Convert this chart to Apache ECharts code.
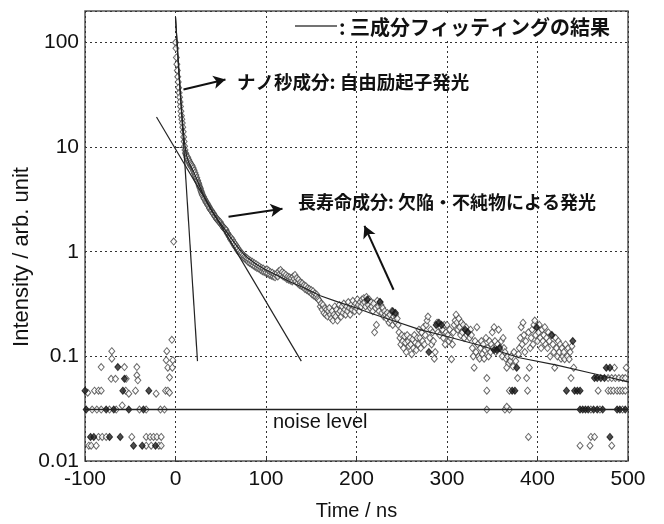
<!DOCTYPE html>
<html>
<head>
<meta charset="utf-8">
<script src="https://cdn.jsdelivr.net/npm/echarts@6/dist/echarts.min.js"></script>
<style>
  html, body { margin: 0; padding: 0; background: #fff; }
  #main { width: 664px; height: 524px; }
</style>
</head>
<body>
<div id="main"></div>
<script>
// x: Time / ns , y: Intensity (log)
var xTicks = [-100, 0, 100, 200, 300, 400, 500];
var yTicks = [0.01, 0.1, 1, 10, 100];

// 立ち上がり前のバックグラウンド (open / filled)
var preOpen = [
  [-4,0.144],[-9.6,0.112],[-10.3,0.092],[-3,0.092],[-70.4,0.112],[-70.4,0.095],
  [-82.1,0.079],[-56.4,0.079],[-42.7,0.079],[-8.5,0.078],[-3.5,0.078],
  [-71.1,0.061],[-66.3,0.061],[-54.5,0.061],[-42.7,0.066],[-41.6,0.059],[-6.6,0.063],
  [-97,0.045],[-89.5,0.047],[-85.1,0.047],[-82.1,0.047],[-55,0.047],[-51.6,0.044],[-44.2,0.047],
  [-21.4,0.044],[-11,0.047],[-8.5,0.047],[-6.6,0.045],[-58.9,0.034],
  [-92.1,0.031],[-86.9,0.031],[-82.1,0.031],[-72.9,0.031],[-65.5,0.031],[-39.8,0.031],
  [-32.4,0.031],[-16.6,0.031],[-12.2,0.031],
  [-85.1,0.017],[-81,0.017],[-76.6,0.017],[-48.3,0.017],[-32.4,0.017],[-28,0.017],
  [-24.3,0.017],[-20.6,0.017],[-15.8,0.017],
  [-95.8,0.014],[-93.2,0.014],[-87.6,0.014],[-32.4,0.014],[-26.9,0.014],[-18.4,0.014],[-15.8,0.014],
  [-2,1.25]
];
var preFilled = [
  [-63.7,0.079],[-56.4,0.061],[-100,0.047],[-58.2,0.047],[-29.5,0.047],
  [-98.7,0.031],[-76.6,0.031],[-68.2,0.031],[-51.6,0.031],[-35.4,0.031],
  [-93.9,0.017],[-90.3,0.017],[-72.9,0.017],[-61.1,0.017],
  [-46.4,0.014],[-36.8,0.014],[-22.1,0.014]
];

// 減衰部分の測定点
var decay = [
  [0,100],[0.5,88],[1,72],[1.5,62],[2,54],[2.5,47],[3,42],[3.5,37],[4,33],[4.5,30],[5,27],[5.5,24.5],
  [6,22],[6.5,20],[7,18.5],[7.5,17],[8,15.5],[8.5,14],[9,12.5],[9.5,11.3],[10,10.2],[10.5,9.4],
  [11,8.8],[11.5,8.6],[12,8.3],[12.5,8.0],[13,7.7],[13.5,8.0],[14,7.4],[14.5,7.6],[15,7.1],[15.5,7.3],
  [16,6.8],[16.5,7.0],[17,6.6],[17.5,6.8],[18,6.4],[18.5,6.6],[19,6.2],[19.5,6.3],[20,5.9],[20.5,6.0],
  [21,5.6],[21.5,5.7],[22,5.3],[22.5,5.4],[23,5.0],[23.5,5.1],[24,4.8],[24.5,4.8],[25,4.6],[25.5,4.5],
  [26,4.35],[26.5,4.2],[27,4.1],[27.5,4.0],[28,3.85],[28.5,3.75],[29,3.65],[29.5,3.55],[30,3.45],
  [31,3.35],[31.5,3.25],[32,3.2],[33,3.1],[33.5,3.0],[34,2.95],[35,2.9],[35.5,2.82],[36,2.78],
  [37,2.7],[37.5,2.62],[38,2.58],[39,2.5],[39.5,2.48],[40,2.45],[41,2.36],[41.5,2.34],[42,2.3],
  [43,2.22],[43.5,2.2],[44,2.15],[45,2.1],[45.5,2.06],[46,2.05],[47,1.98],[47.5,2.0],[48,1.95],
  [49,1.9],[49.5,1.92],[50,1.85],[51,1.8],[51.5,1.78],[52,1.75],[53,1.7],[53.5,1.7],[54,1.67],
  [55,1.62],[55.5,1.64],[56,1.6],[57,1.52],[57.5,1.5],[58,1.48],[59,1.42],[59.5,1.4],
  [60,1.38],[60.8,1.32],[61.5,1.36],[62.3,1.27],[63,1.3],[63.8,1.2],[64.5,1.23],[65.3,1.14],[66,1.18],
  [66.8,1.1],[67.5,1.13],[68.3,1.04],[69,1.08],[69.8,1.0],[70.5,1.03],[71.3,0.96],[72,0.99],[72.8,0.93],
  [73.5,0.96],[74.3,0.9],[75,0.93],[75.8,0.87],[76.5,0.9],[77.3,0.85],[78,0.88],[78.8,0.83],[79.5,0.86],
  [80.3,0.8],[81,0.84],[82,0.78],[83,0.82],[84,0.76],[85,0.8],[86,0.74],[87,0.78],[88,0.72],[89,0.76],
  [90,0.7],[91,0.74],[92,0.69],[93,0.72],[94,0.67],[95,0.7],[96,0.65],[97,0.69],[98,0.64],[99,0.67],
  [100,0.63],[101,0.68],[102,0.62],[103,0.66],[104,0.6],[105,0.64],[106,0.59],[107,0.63],[108,0.58],
  [109,0.61],[110,0.57],[111,0.6],[112,0.62],[113,0.58],[114,0.65],[115,0.61],[116,0.67],[117,0.6],
  [118,0.64],[119,0.58],[120,0.62],[121,0.57],[122,0.6],[123,0.55],[124,0.58],[125,0.54],[126,0.57],
  [127,0.53],[128,0.56],[129,0.52],[130,0.58],[131,0.55],[132,0.6],[133,0.52],[134,0.56],[135,0.5],
  [136,0.54],[137,0.48],[138,0.51],[139,0.47],[140,0.5],[141,0.46],[142,0.48],[143,0.44],[144,0.47],
  [145,0.43],[146,0.45],[147,0.42],[148,0.44],[149,0.41],[150,0.43],[151,0.39],[152,0.42],[153,0.38],
  [154,0.4],[155,0.37],[156,0.39],[157,0.36],[158,0.35],[159,0.34],[160,0.3],[161,0.32],[162,0.28],
  [163,0.31],[164,0.26],[165,0.29],[166,0.25],[167,0.28],[168,0.24],[169,0.27],[170,0.29],[171,0.25],
  [172,0.23],[173,0.27],[174,0.22],[175,0.25],[176,0.3],[177,0.24],[178,0.28],[179,0.22],[180,0.26],
  [181,0.31],[182,0.27],[183,0.24],[184,0.3],[185,0.26],[186,0.32],[187,0.28],[188,0.25],[189,0.3],
  [190,0.27],[191,0.33],[192,0.29],[193,0.25],[194,0.31],[195,0.28],[196,0.34],[197,0.3],[198,0.27],
  [199,0.32],[200,0.29],[201,0.35],[202,0.31],[203,0.27],[204,0.33],[205,0.3],[206,0.35],[207,0.32],
  [208,0.36],[209,0.33],[210,0.3],[211,0.37],[212,0.34],[213,0.31],[214,0.35],[215,0.29],[216,0.33],
  [217,0.3],[218,0.27],[219,0.32],[220,0.17],[221,0.29],[222,0.2],[223,0.34],[224,0.3],[225,0.27],
  [226,0.33],[227,0.31],[228,0.26],[229,0.29],[230,0.24],[231,0.27],[232,0.25],[233,0.23],[234,0.26],
  [235,0.24],[236,0.21],[237,0.25],[238,0.22],[239,0.27],[240,0.2],[241,0.24],[242,0.22],[243,0.25],
  [244,0.21],[245,0.23],[246,0.2],[247,0.17],[248,0.15],[249,0.13],[250,0.16],[251,0.14],[252,0.12],
  [253,0.155],[254,0.135],[255,0.11],[256,0.16],[257,0.14],[258,0.125],[259,0.15],[260,0.13],
  [261,0.105],[262,0.145],[263,0.12],[264,0.16],[265,0.135],[266,0.115],[267,0.15],[268,0.13],
  [269,0.18],[270,0.15],[271,0.12],[272,0.17],[273,0.14],[274,0.19],[275,0.13],[276,0.16],[277,0.2],
  [278,0.22],[279,0.24],[281,0.15],[282,0.18],[283,0.13],[284,0.17],[285,0.14],[286,0.095],
  [287,0.11],[289,0.21],[290,0.17],[292,0.16],[293,0.19],[295,0.18],[296,0.15],[297,0.2],
  [298,0.13],[299,0.17],[300,0.2],[301,0.16],[302,0.14],[303,0.18],[304,0.15],[305,0.094],
  [306,0.13],[307,0.17],[308,0.2],[309,0.22],[310,0.25],[311,0.21],[312,0.18],[313,0.23],[314,0.19],
  [315,0.16],[316,0.21],[317,0.17],[318,0.2],[319,0.15],[321,0.19],[322,0.16],[324,0.17],
  [325,0.15],[326,0.18],[327,0.16],[328,0.12],[329,0.1],[331,0.14],[332,0.11],[333,0.19],[334,0.13],
  [335,0.1],[336,0.095],[337,0.12],[338,0.14],[339,0.105],[340,0.13],[341,0.095],[342,0.115],
  [343,0.15],[345,0.12],[346,0.1],[347,0.14],[348,0.11],[349,0.13],[350,0.17],[351,0.12],[352,0.19],
  [353,0.14],[354,0.11],[356,0.13],[357,0.18],[359,0.12],[360,0.14],[361,0.1],[362,0.15],
  [363,0.12],[364,0.11],[365,0.095],[367,0.1],[368,0.085],[370,0.09],[371,0.1],[373,0.08],
  [374,0.11],[376,0.09],[379,0.105],[380,0.12],[381,0.15],[382,0.19],[383,0.13],[384,0.21],
  [385,0.16],[386,0.11],[387,0.14],[390,0.17],[392,0.12],[393,0.15],[394,0.18],[395,0.13],[396,0.2],
  [397,0.22],[398,0.16],[400,0.14],[401,0.17],[402,0.2],[403,0.15],[404,0.12],[405,0.18],[406,0.14],
  [407,0.16],[408,0.19],[409,0.13],[410,0.15],[411,0.12],[412,0.17],[413,0.14],[414,0.1],[415,0.16],
  [417,0.13],[418,0.11],[420,0.15],[421,0.12],[422,0.1],[423,0.14],[424,0.11],[425,0.13],[426,0.095],
  [427,0.12],[428,0.1],[429,0.11],[430,0.094],[431,0.13],[433,0.1],[434,0.12],[435,0.094],[436,0.11],
  [438,0.125]
];
var decayFilled = [
  [280,0.11],[288,0.2],[291,0.21],[294,0.2],[320,0.18],[323,0.17],[352,0.115],[355,0.115],
  [358,0.12],[212,0.35],[226,0.33],[240,0.27],[243,0.26],[399,0.19],[416,0.16],[439,0.14]
];

// 後半の量子化レベル (open / filled)
var lateOpen = [
  [459,0.031],[469,0.031],[494,0.031],[344,0.031],[364,0.031],[369,0.031],[366,0.033],
  [467,0.047],[478,0.047],[481,0.047],[484,0.047],[488,0.047],[491,0.047],[494,0.047],[497,0.047],
  [344,0.047],[369,0.047],[389,0.047],
  [478,0.062],[482,0.062],[486,0.062],[490,0.062],[494,0.062],[497,0.062],[344,0.062],[378,0.062],
  [388,0.062],[437,0.062],
  [485,0.078],[498,0.078],[330,0.078],[366,0.078],[419,0.078],[440,0.078],[391,0.078],
  [459,0.017],[463,0.017],[390,0.017],[447,0.014],[458,0.014],[482,0.014]
];
var lateFilled = [
  [447,0.031],[450,0.031],[453,0.031],[456,0.031],[462,0.031],[466,0.031],[472,0.031],[488,0.031],
  [491,0.031],[497,0.031],
  [432,0.047],[441,0.047],[444,0.047],[447,0.047],[372,0.047],[375,0.047],
  [463,0.062],[466,0.062],[470,0.062],[474,0.062],
  [476,0.078],[480,0.078],[377,0.078],[480,0.017]
];

// フィッティング結果
var fitTotal = [
  [0,175],[2,90],[4,48],[6,27],[8,16.5],[10,11],[12,8.4],[15,7],[20,5.8],[25,4.6],[30,3.6],[35,2.95],
  [40,2.45],[45,2.12],[50,1.85],[55,1.62],[60,1.4],[65,1.22],[70,1.07],[75,0.96],[80,0.87],[90,0.75],
  [100,0.67],[115,0.58],[130,0.5],[145,0.44],[160,0.38],[180,0.33],[200,0.29],[215,0.26],[240,0.22],
  [270,0.18],[300,0.155],[340,0.125],[380,0.097],[420,0.083],[460,0.069],[500,0.057]
];
var fitFast = [[0,173],[24.3,0.09]];
var fitMid = [[-21,19.4],[139,0.09]];
var noiseLevel = [[-100,0.031],[500,0.031]];

// 矢印 (始点, 終点)
var arrows = [
  [[8.8,35.5],[55.2,44.3]],
  [[58.6,2.16],[118.2,2.58]],
  [[240.9,0.433],[208.8,1.77]]
];

var chart = echarts.init(document.getElementById('main'), null, {renderer: 'canvas'});
var numFont = '"Liberation Sans", Arial, sans-serif';
var jpFont = '"Noto Sans CJK JP", sans-serif';

var openStyle = {color: '#fff', borderColor: '#444', borderWidth: 1};
var fillStyle = {color: '#222', borderColor: '#111', borderWidth: 1};

function scatter(name, data, style) {
  return {
    name: name, type: 'scatter', data: data, symbol: 'diamond', symbolSize: [6, 7],
    itemStyle: style, z: 2, silent: true
  };
}
function fitLine(name, data, w) {
  return {
    name: name, type: 'line', data: data, showSymbol: false, symbol: 'none', z: 4, silent: true,
    lineStyle: {color: '#222', width: w}
  };
}

var option = {
  animation: false,
  backgroundColor: '#fff',
  grid: {left: 85, right: 36, top: 11, bottom: 63, show: true, borderColor: '#555', borderWidth: 1.5,
         outerBoundsMode: 'none', containLabel: false},
  xAxis: {
    type: 'value', min: xTicks[0], max: xTicks[xTicks.length - 1], interval: 100,
    name: 'Time / ns', nameLocation: 'middle', nameGap: 40,
    nameTextStyle: {fontFamily: numFont, fontSize: 20, color: '#111'},
    axisLine: {show: false},
    axisTick: {show: true, inside: true, length: 4, lineStyle: {color: '#333'}},
    axisLabel: {fontFamily: numFont, fontSize: 21, color: '#111', margin: 8},
    splitLine: {show: true, lineStyle: {color: '#333', type: [2, 3], width: 1}}
  },
  yAxis: {
    type: 'log', logBase: 10, min: yTicks[0], max: 200,
    axisLine: {show: false},
    axisTick: {show: true, inside: true, length: 4, lineStyle: {color: '#333'}},
    axisLabel: {
      fontFamily: numFont, fontSize: 21, color: '#111', margin: 6,
      formatter: function (v) {
        var e = Math.log10(v);
        if (Math.abs(e - Math.round(e)) > 1e-6) return '';
        return String(Number(v.toPrecision(3)));
      }
    },
    minorTick: {show: false},
    splitLine: {show: true, lineStyle: {color: '#333', type: [2, 3], width: 1}}
  },
  graphic: [
    {type: 'text', x: 22, y: 257, rotation: Math.PI / 2,
     style: {text: 'Intensity / arb. unit', fontFamily: numFont, fontSize: 22, fill: '#111',
             align: 'center', verticalAlign: 'middle'}},
    {type: 'rect', shape: {x: 290, y: 13, width: 332, height: 28}, style: {fill: '#fff'}, z: 10},
    {type: 'line', shape: {x1: 295, y1: 26, x2: 337, y2: 26}, style: {stroke: '#444', lineWidth: 1.5}, z: 11},
    {type: 'text', x: 339, y: 27, z: 11,
     style: {text: ': 三成分フィッティングの結果', fontFamily: jpFont, fontWeight: 'bold', fontSize: 20,
             fill: '#111', verticalAlign: 'middle'}},
    {type: 'text', x: 237, y: 82, z: 11,
     style: {text: 'ナノ秒成分: 自由励起子発光', fontFamily: jpFont, fontWeight: 'bold', fontSize: 18.5,
             fill: '#111', verticalAlign: 'middle'}},
    {type: 'text', x: 298, y: 202, z: 11,
     style: {text: '長寿命成分: 欠陥・不純物による発光', fontFamily: jpFont, fontWeight: 'bold', fontSize: 18,
             fill: '#111', verticalAlign: 'middle'}},
    {type: 'text', x: 273, y: 422, z: 11,
     style: {text: 'noise level', fontFamily: numFont, fontSize: 20, fill: '#111', verticalAlign: 'middle'}}
  ],
  series: [
    scatter('pre', preOpen, openStyle),
    scatter('decay', decay, openStyle),
    scatter('late', lateOpen, openStyle),
    scatter('preF', preFilled, fillStyle),
    scatter('decayF', decayFilled, fillStyle),
    scatter('lateF', lateFilled, fillStyle),
    fitLine('total', fitTotal, 1.2),
    fitLine('fast', fitFast, 1.2),
    fitLine('mid', fitMid, 1.2),
    {
      name: 'noise', type: 'line', data: noiseLevel, showSymbol: false, symbol: 'none', z: 4, silent: true,
      lineStyle: {color: '#222', width: 1.5},
      markLine: {
        silent: true, symbol: ['none', 'arrow'], symbolSize: [10, 12], precision: 4,
        label: {show: false},
        lineStyle: {color: '#111', width: 2, type: 'solid'},
        data: arrows.map(function (a) { return [{coord: a[0]}, {coord: a[1]}]; })
      }
    }
  ]
};
chart.setOption(option);
</script>
</body>
</html>
